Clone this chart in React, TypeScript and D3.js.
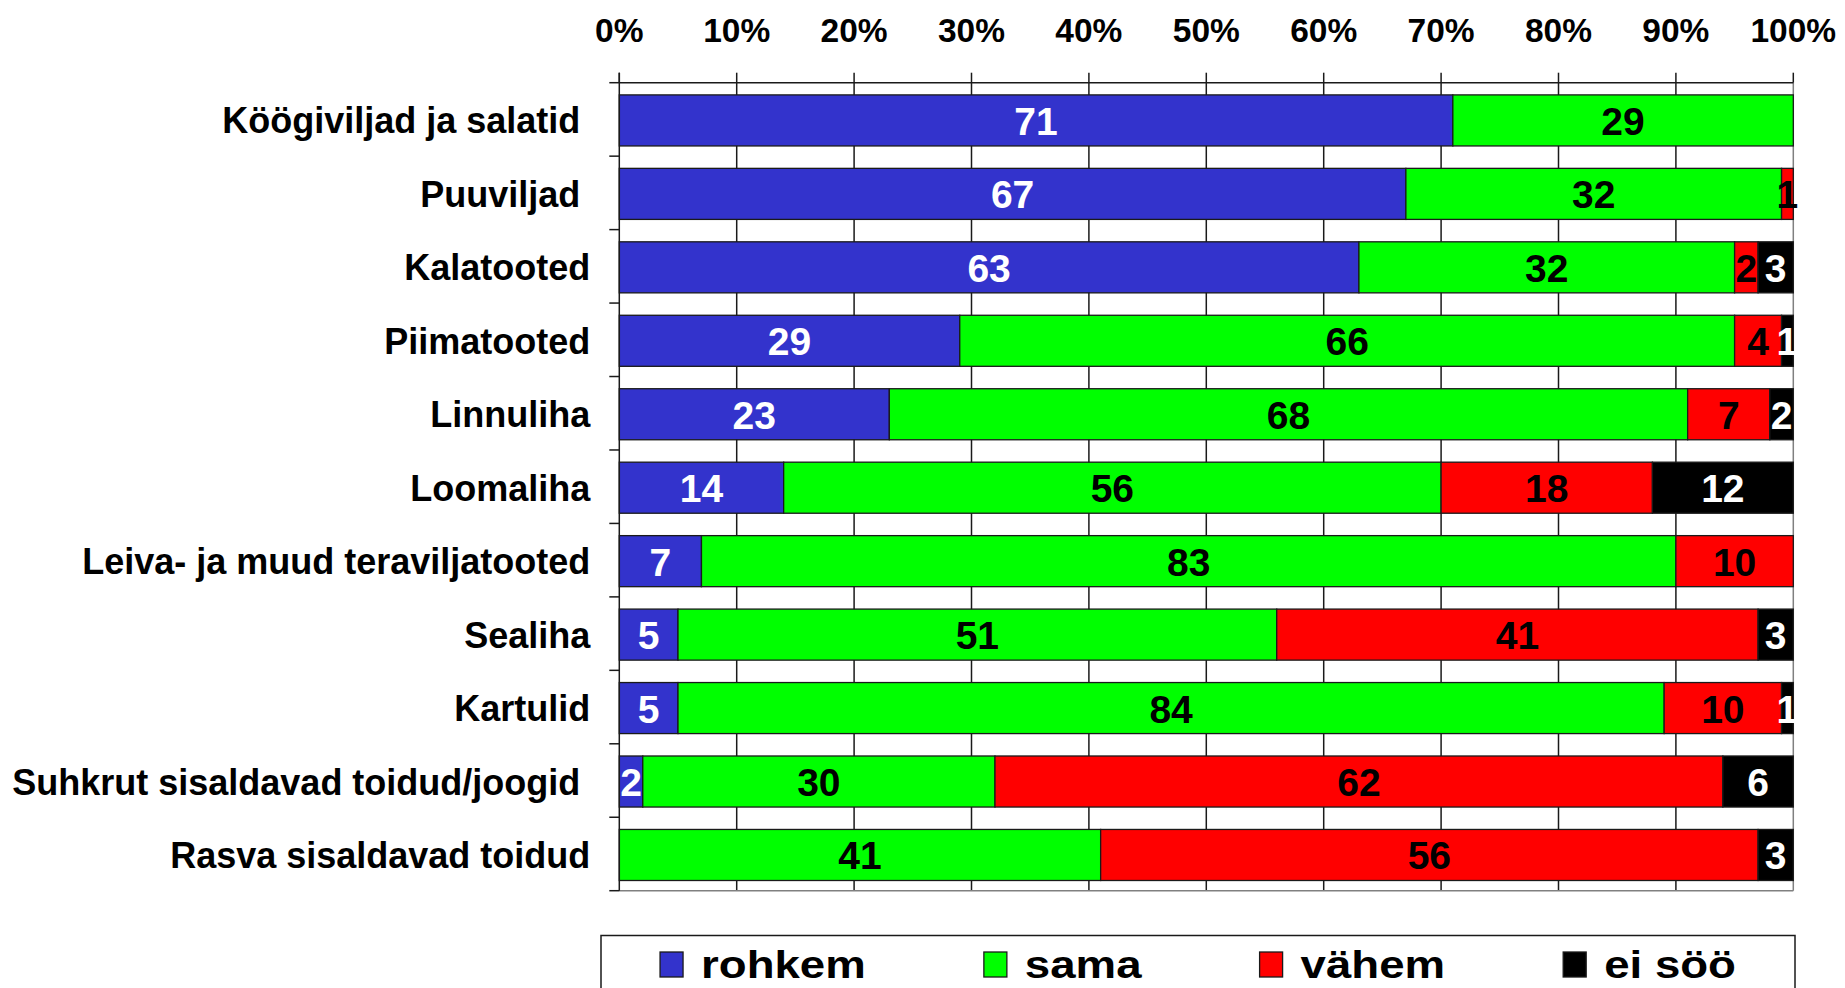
import React from "react";
import * as d3 from "d3";

const categories = [
  "Köögiviljad ja salatid ",
  "Puuviljad ",
  "Kalatooted",
  "Piimatooted",
  "Linnuliha",
  "Loomaliha",
  "Leiva- ja muud teraviljatooted",
  "Sealiha",
  "Kartulid",
  "Suhkrut sisaldavad toidud/joogid ",
  "Rasva sisaldavad toidud",
];
const rohkem = [71, 67, 63, 29, 23, 14, 7, 5, 5, 2, 0];
const sama = [29, 32, 32, 66, 68, 56, 83, 51, 84, 30, 41];
const vahem = [0, 1, 2, 4, 7, 18, 10, 41, 10, 62, 56];
const eiSoo = [0, 0, 3, 1, 2, 12, 0, 3, 1, 6, 3];
const seriesNames = ["rohkem", "sama", "vähem", "ei söö"];
const seriesColors = ["#3333CC", "#00FF00", "#FF0000", "#000000"];
const seriesTextColors = ["#FFFFFF", "#000000", "#000000", "#FFFFFF"];
const xTicks = [0, 10, 20, 30, 40, 50, 60, 70, 80, 90, 100];

const W = 1845;
const H = 988;
const FONT = "'Liberation Sans', Arial, Helvetica, sans-serif";

export default function App() {
  const plotLeft = 619.3;
  const plotRight = 1793.3;
  const plotTop = 82.7;
  const plotBottom = 890.7;

  const x = d3.scaleLinear().domain([0, 100]).range([plotLeft, plotRight]);
  const y = d3.scaleBand<string>().domain(categories).range([plotTop, plotBottom]).padding(0);
  const step = y.step();
  const barH = step * 0.695;
  const barOff = (step - barH) / 2 + 1;

  const rows = categories.map((c, i) => ({
    cat: c,
    rohkem: rohkem[i],
    sama: sama[i],
    vahem: vahem[i],
    eiSoo: eiSoo[i],
  }));
  const keys = ["rohkem", "sama", "vahem", "eiSoo"];
  const stacked = d3.stack<any>().keys(keys)(rows);

  // Legend layout (space-around, measured)
  const legendLeft = 601;
  const legendRight = 1795;
  const legendTop = 935.5;
  const legendFont = 38;
  const legendScaleX = 1.2;
  const swW = 23;
  const swGap = 18;
  let widths: number[] = seriesNames.map((n) => n.length * 0.6 * legendFont);
  try {
    const cv = document.createElement("canvas");
    const ctx = cv.getContext("2d");
    if (ctx) {
      ctx.font = `bold ${legendFont}px ${FONT}`;
      widths = seriesNames.map((n) => ctx.measureText(n).width);
    }
  } catch (e) {}
  const itemW = widths.map((w) => swW + swGap + w * legendScaleX);
  const totalW = d3.sum(itemW);
  const gap = (legendRight - legendLeft - totalW) / seriesNames.length;
  const itemX: number[] = [];
  let cx = legendLeft + gap / 2;
  itemW.forEach((w) => {
    itemX.push(cx);
    cx += w + gap;
  });

  return (
    <svg
      width={W}
      height={H}
      style={{ position: "absolute", left: 0, top: 0, background: "#fff" }}
      fontFamily={FONT}
      fontWeight="bold"
    >
      <rect x={0} y={0} width={W} height={H} fill="#fff" />
      {/* gridlines */}
      {xTicks.slice(1, -1).map((t) => (
        <line key={"g" + t} x1={x(t)} x2={x(t)} y1={plotTop} y2={plotBottom} stroke="#1a1a1a" strokeWidth={1.5} />
      ))}
      {/* plot border right & bottom (gray) */}
      <line x1={plotRight} x2={plotRight} y1={plotTop} y2={plotBottom} stroke="#808080" strokeWidth={1.5} />
      <line x1={plotLeft} x2={plotRight} y1={plotBottom} y2={plotBottom} stroke="#808080" strokeWidth={1.5} />

      {/* bars */}
      {stacked.map((layer, si) =>
        layer.map((d, i) => {
          const v = d[1] - d[0];
          if (v <= 0) return null;
          const yTop = (y(categories[i]) as number) + barOff;
          return (
            <rect
              key={si + "-" + i}
              x={x(d[0])}
              y={yTop}
              width={x(d[1]) - x(d[0])}
              height={barH}
              fill={seriesColors[si]}
              stroke="#1a1a1a"
              strokeWidth={1.3}
            />
          );
        })
      )}
      {/* value labels */}
      {stacked.map((layer, si) =>
        layer.map((d, i) => {
          const v = d[1] - d[0];
          if (v <= 0) return null;
          const yc = (y(categories[i]) as number) + barOff + barH / 2;
          return (
            <text
              key={"t" + si + "-" + i}
              x={(x(d[0]) + x(d[1])) / 2}
              y={yc + 14.5}
              textAnchor="middle"
              fontSize={39}
              fill={seriesTextColors[si]}
            >
              {v}
            </text>
          );
        })
      )}

      {/* top axis */}
      <line x1={plotLeft} x2={plotRight} y1={plotTop} y2={plotTop} stroke="#1a1a1a" strokeWidth={1.5} />
      {xTicks.map((t) => (
        <g key={"xt" + t}>
          <line x1={x(t)} x2={x(t)} y1={plotTop - 10} y2={plotTop} stroke="#1a1a1a" strokeWidth={1.5} />
          <text x={x(t)} y={41.7} textAnchor="middle" fontSize={33.5} fill="#000">
            {t + "%"}
          </text>
        </g>
      ))}
      {/* left axis */}
      <line x1={plotLeft} x2={plotLeft} y1={plotTop - 10} y2={plotBottom} stroke="#1a1a1a" strokeWidth={1.5} />
      {categories.map((c, i) => (
        <line
          key={"yt" + i}
          x1={plotLeft - 10}
          x2={plotLeft}
          y1={(y(c) as number)}
          y2={(y(c) as number)}
          stroke="#1a1a1a"
          strokeWidth={1.5}
        />
      ))}
      <line x1={plotLeft - 10} x2={plotLeft} y1={plotBottom} y2={plotBottom} stroke="#1a1a1a" strokeWidth={1.5} />
      {categories.map((c, i) => (
        <text
          key={"yl" + i}
          x={plotLeft - 29}
          y={(y(c) as number) + barOff + barH / 2 + 13}
          textAnchor="end"
          fontSize={36}
          fill="#000"
          xmlSpace="preserve"
          style={{ whiteSpace: "pre" }}
        >
          {c}
        </text>
      ))}

      {/* legend */}
      <rect
        x={legendLeft}
        y={legendTop}
        width={legendRight - legendLeft}
        height={80}
        fill="#fff"
        stroke="#1a1a1a"
        strokeWidth={1.5}
      />
      {seriesNames.map((n, i) => (
        <g key={"lg" + i} transform={`translate(${itemX[i]},0)`}>
          <rect x={0} y={952} width={swW} height={25} fill={seriesColors[i]} stroke="#1a1a1a" strokeWidth={1.3} />
          <text
            transform={`translate(${swW + swGap},977.7) scale(${legendScaleX},1)`}
            fontSize={legendFont}
            fill="#000"
          >
            {n}
          </text>
        </g>
      ))}
    </svg>
  );
}
